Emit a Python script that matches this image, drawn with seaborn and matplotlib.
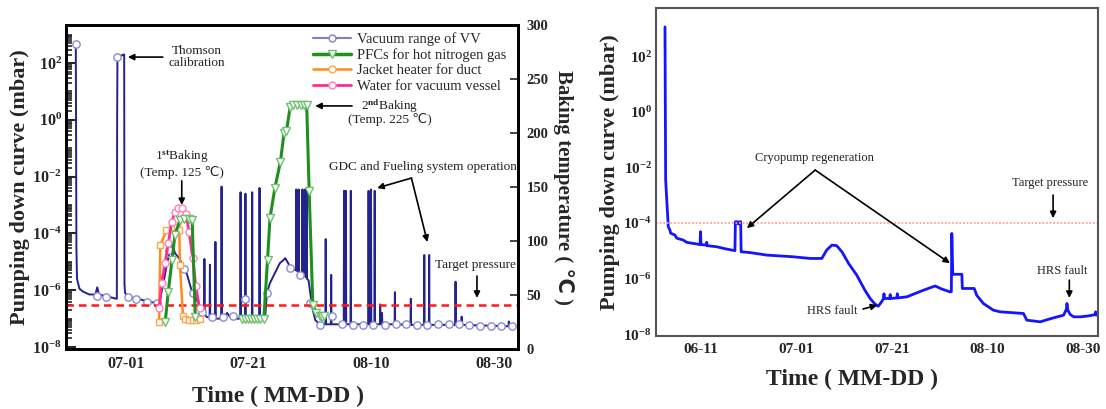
import numpy as np
import pandas as pd
import matplotlib
matplotlib.use("Agg")
import matplotlib.pyplot as plt
import seaborn as sns
from matplotlib.lines import Line2D
from matplotlib.ticker import FixedLocator, FuncFormatter, NullFormatter

# ---------------- data (x = days since 06-01, pressure as log10 mbar) ----------------
date_tick_days_L = [30, 50, 70, 90]
date_tick_labels_L = ["07-01", "07-21", "08-10", "08-30"]
date_tick_days_R = [10, 30, 50, 70, 90]
date_tick_labels_R = ["06-11", "07-01", "07-21", "08-10", "08-30"]
date_minor_days_R = [20, 40, 60, 80]
pressure_decades = [-8, -6, -4, -2, 0, 2]

# Left panel: vacuum range of VV (day, log10 p)
vv_trace = [
    (21.8, 2.67), (21.9, -4.5), (22.0, -5.6), (22.4, -5.95), (23.0, -6.05), (24.0, -6.15),
    (25.0, -6.15), (25.3, -5.9), (25.6, -6.15), (26.5, -6.2), (27.5, -6.25), (28.4, -6.3),
    (28.5, -6.3), (28.55, 0.0), (28.6, 2.2), (29.6, 2.3), (29.7, 2.3), (29.75, -5.8), (29.85, -6.1),
    (30.5, -6.25), (32.0, -6.3), (33.5, -6.4), (35.0, -6.45), (35.5, -6.4), (36.1, -5.75),
    (36.7, -5.05), (37.3, -4.5), (37.6, -4.4), (38.0, -4.7), (38.6, -4.85), (39.1, -5.05),
    (39.9, -5.4), (40.7, -6.0), (41.5, -6.3), (42.3, -6.7),
    (42.75, -6.8), (42.8, -4.9), (42.85, -6.85), (43.2, -6.95), (43.65, -6.95), (43.7, -5.1),
    (43.75, -7.0), (44.2, -7.0), (44.55, -7.0), (44.6, -4.3), (44.65, -7.0), (45.0, -7.0),
    (45.55, -7.0), (45.6, -2.35), (45.65, -6.95), (46.0, -6.95), (46.5, -6.8), (47.0, -6.95),
    (47.8, -7.0),
    (48.65, -7.0), (48.7, -2.55), (48.75, -7.0), (49.45, -7.0), (49.5, -2.6), (49.55, -7.0),
    (50.55, -7.0), (50.6, -2.55), (50.65, -7.0), (51.75, -7.0), (51.8, -2.4), (51.85, -7.0),
    (52.7, -7.0),
    (53.0, -6.1), (53.5, -5.75), (54.3, -5.4), (55.1, -5.05), (55.7, -4.94), (56.0, -4.87),
    (56.8, -5.17), (57.15, -5.25),
    (57.75, -5.3), (57.8, -2.45), (57.85, -5.3), (58.15, -5.35), (58.2, -2.45), (58.25, -5.35),
    (58.75, -5.45), (58.8, -2.45), (58.85, -5.45), (59.15, -5.5), (59.2, -2.45), (59.25, -5.5),
    (59.45, -5.55), (59.5, -2.45), (59.55, -5.6), (59.8, -5.65),
    (60.4, -6.6), (60.9, -7.05), (61.7, -7.22), (62.55, -7.2), (62.6, -4.2), (62.65, -7.2),
    (63.45, -7.2), (63.5, -5.46), (63.55, -7.2),
    (65.55, -7.2), (65.6, -2.5), (65.65, -7.2), (65.85, -7.2), (65.9, -2.5), (65.95, -7.2),
    (66.65, -7.2), (66.7, -2.5), (66.75, -7.2),
    (69.55, -7.2), (69.6, -2.5), (69.65, -7.2), (69.95, -7.2), (70.0, -2.45), (70.05, -7.2),
    (70.55, -7.2), (70.6, -2.5), (70.65, -7.2),
    (71.45, -7.2), (71.5, -6.5), (71.55, -7.2), (71.75, -7.2), (71.8, -6.8), (71.85, -7.2),
    (73.85, -7.2), (73.9, -6.07), (73.95, -7.2), (76.45, -7.22), (76.5, -6.3), (76.55, -7.22),
    (78.65, -7.22), (78.7, -4.76), (78.75, -7.22), (79.45, -7.22), (79.5, -4.76), (79.55, -7.22),
    (83.75, -7.22), (83.8, -5.7), (83.85, -7.22), (84.75, -7.22), (84.8, -6.93), (84.85, -7.22),
    (92.45, -7.27), (92.5, -7.1), (92.55, -7.27), (94.0, -7.27),
]
vv_marker_days = [21.8, 28.5, 25.2, 26.8, 30.4, 31.7, 33.4, 35.0, 37.0, 39.5, 41.0, 42.4, 44.0,
                  45.9, 47.4, 49.4, 53.0, 56.8, 58.4, 60.0, 61.7, 63.6, 65.3, 67.0, 68.7, 70.4,
                  72.3, 74.0, 75.7, 77.5, 79.2, 81.0, 82.7, 84.4, 86.0, 87.8, 89.6, 91.3, 93.1]
vv_marker_logp = [2.67, 2.2, -6.2, -6.25, -6.25, -6.3, -6.4, -6.45, -4.6, -5.25, -6.1, -6.75, -6.95,
                  -6.95, -6.9, -6.3, -6.1, -5.2, -5.45, -6.45, -7.22, -6.9, -7.2, -7.22, -7.22, -7.22,
                  -7.22, -7.2, -7.2, -7.22, -7.22, -7.2, -7.2, -7.2, -7.22, -7.25, -7.25, -7.25, -7.25]

# Baking temperatures (deg C)
pfc_days = [36.4, 36.9, 37.5, 38.0, 38.8, 39.5, 40.3, 40.8, 41.3]
pfc_temp = [25, 53, 82, 106, 119, 120, 120, 119, 30]
pfc2_days = [48.9, 49.4, 49.9, 50.4, 50.9, 51.4, 51.9, 52.5, 53.1, 53.5, 54.3, 55.2, 55.8, 56.2,
             56.8, 57.3, 57.9, 58.5, 59.0, 59.5, 59.9, 60.5, 61.1, 61.6, 62.0, 62.4]
pfc2_temp = [28, 28, 28, 28, 28, 28, 28, 28, 82, 121, 149, 173, 200, 202,
             224, 226, 226, 226, 226, 226, 146, 41, 33, 31, 30, 31]
jacket_days = [35.4, 35.6, 36.6, 37.5, 38.3, 38.7, 38.8, 39.3, 39.7, 40.3, 40.9, 41.5, 42.0]
jacket_temp = [25, 96, 110, 113, 113, 110, 78, 31, 28, 27, 27, 27, 28]
water_days = [35.45, 35.8, 36.4, 36.9, 37.5, 38.0, 38.5, 39.2, 39.8, 40.3, 40.9, 41.4, 42.0]
water_temp = [38, 61, 80, 98, 118, 127, 131, 131, 125, 108, 84, 58, 38]
temp_ticks = [0, 50, 100, 150, 200, 250, 300]

target_left = 3e-7
target_right = 1e-4

# Right panel: pumping down curve (day, log10 p)
pd_trace = [
    (2.46, 3.05), (2.6, -2.46), (2.8, -3.06), (3.15, -4.14), (3.5, -4.26), (3.65, -4.37),
    (4.55, -4.44), (4.9, -4.55), (6.3, -4.62), (7.0, -4.7), (9.8, -4.78), (9.9, -4.32),
    (10.0, -4.78), (11.1, -4.8), (11.2, -4.7), (11.3, -4.82), (13.3, -4.86), (15.0, -4.93),
    (17.1, -5.0), (17.2, -3.96), (17.6, -3.96), (17.8, -4.04), (18.1, -3.96), (18.3, -3.96),
    (18.4, -5.04), (20.3, -5.07), (23.8, -5.16), (29.3, -5.22), (32.8, -5.28), (35.3, -5.28),
    (36.3, -4.98), (37.4, -4.8), (38.4, -4.82), (39.5, -5.04), (40.9, -5.46), (42.6, -5.88),
    (44.3, -6.42), (45.4, -6.72), (46.4, -6.92), (47.1, -7.0), (47.8, -6.84), (48.2, -6.72),
    (48.3, -6.55), (48.4, -6.72), (49.5, -6.72), (49.6, -6.58), (49.7, -6.72), (51.0, -6.7),
    (51.1, -6.55), (51.2, -6.7), (53.1, -6.66), (56.6, -6.42), (59.0, -6.27), (60.4, -6.38),
    (62.1, -6.48), (62.4, -6.48), (62.5, -4.38), (62.7, -5.85), (64.6, -5.85), (64.7, -6.36),
    (67.2, -6.36), (67.7, -6.6), (69.1, -6.9), (71.2, -7.14), (72.6, -7.2), (77.5, -7.26),
    (78.2, -7.5), (81.0, -7.56), (83.1, -7.45), (85.9, -7.32), (86.5, -7.1), (86.6, -6.9),
    (86.8, -7.15), (87.3, -7.3), (88.0, -7.38), (89.4, -7.38), (91.0, -7.35), (92.5, -7.3),
    (92.6, -7.2), (92.7, -7.32), (93.1, -7.3),
]

# ---------------- style ----------------
sns.set_style("white")
plt.rcParams["font.family"] = ["Liberation Serif", "DejaVu Sans"]
plt.rcParams["mathtext.fontset"] = "custom"
plt.rcParams["mathtext.rm"] = "Liberation Serif:bold"
plt.rcParams["mathtext.bf"] = "Liberation Serif:bold"
plt.rcParams["mathtext.it"] = "Liberation Serif:bold"

fig = plt.figure(figsize=(11.06, 4.09), dpi=100)
W, H = 1106, 409
axL = fig.add_axes([66 / W, 1 - 349 / H, 452 / W, 324 / H])
axR = fig.add_axes([656 / W, 1 - 336 / H, 442 / W, 328 / H])

vv = pd.DataFrame(vv_trace, columns=["day", "logp"])
vv["p"] = 10.0 ** vv["logp"]
vvm = pd.DataFrame({"day": vv_marker_days, "p": 10.0 ** np.array(vv_marker_logp)})
pdc = pd.DataFrame(pd_trace, columns=["day", "logp"])
pdc["p"] = 10.0 ** pdc["logp"]

VV_C = "#23238e"
VV_MK = "#8a8ad8"
GREEN = "#1f8f1f"
ORANGE = "#ff8c1a"
PINK = "#ff2d8f"

# ---------------- left panel ----------------
sns.lineplot(data=vv, x="day", y="p", ax=axL, sort=False, estimator=None, color=VV_C, lw=1.4)
sns.scatterplot(data=vvm, x="day", y="p", ax=axL, marker="o", s=28, facecolor="white",
                edgecolor=VV_MK, linewidth=1.0, zorder=3)
axL.axhline(target_left, color="#ff1a1a", lw=1.8, dashes=(3, 2), zorder=4)

axT = axL.twinx()
for d, t, c, m, mec, ms, lw in [
    (jacket_days, jacket_temp, ORANGE, "s", "#ffa64d", 4.5, 1.8),
    (water_days, water_temp, PINK, "o", "#ff80c0", 5, 2.0),
    (pfc_days, pfc_temp, GREEN, "v", "#70c070", 5.5, 2.2),
    (pfc2_days, pfc2_temp, GREEN, "v", "#70c070", 5.5, 2.2),
]:
    sns.lineplot(x=d, y=t, ax=axT, sort=False, estimator=None, color=c, lw=lw, marker=m,
                 markersize=ms, markerfacecolor="white", markeredgecolor=mec, markeredgewidth=1.0)
axT.set_ylim(0, 300)
axT.set_yticks(temp_ticks)

# right panel line
sns.lineplot(data=pdc, x="day", y="p", ax=axR, sort=False, estimator=None, color="#1414ff", lw=2.0)
axR.axhline(target_right, color="#ffa0a0", lw=1.3, ls=(0, (1, 1)))

# log axes setup (after plotting)
major_log = [10.0 ** k for k in pressure_decades]
minor_log = [m * 10.0 ** k for k in range(-9, 4) for m in range(1, 10)]
logfmt = FuncFormatter(lambda v, pos: r"$10^{%d}$" % int(round(np.log10(v))))
for ax in (axL, axR):
    ax.set_yscale("log")
    ax.yaxis.set_major_locator(FixedLocator(major_log))
    ax.yaxis.set_minor_locator(FixedLocator(minor_log))
    ax.yaxis.set_major_formatter(logfmt)
    ax.yaxis.set_minor_formatter(NullFormatter())
axL.set_xlim(20.2, 94.0)
axL.set_ylim(10 ** -8.07, 10 ** 3.34)
axR.set_xlim(0.58, 93.1)
axR.set_ylim(10 ** -8.07, 10 ** 3.73)

axL.set_xticks(date_tick_days_L)
axL.set_xticklabels(date_tick_labels_L)
axL.tick_params(axis="x", which="major", direction="in", length=6, width=1.5, pad=5,
                labelsize=11.5, top=False)
axL.tick_params(axis="y", which="major", direction="in", length=7, width=1.5, pad=3, labelsize=11.5)
axL.tick_params(axis="y", which="minor", direction="in", length=4, width=1.2)
axT.tick_params(axis="y", which="major", direction="in", length=6, width=1.2, pad=6, labelsize=10.5)
for lab in axL.get_xticklabels() + axL.get_yticklabels() + axT.get_yticklabels():
    lab.set_fontweight("bold")
for a in (axL, axT):
    for s in a.spines.values():
        s.set_linewidth(2.0)
        s.set_color("black")

axL.set_xlabel("Time ( MM-DD )", fontsize=17, fontweight="bold", va="center")
axL.xaxis.set_label_coords(0.469, -0.148)
axL.set_ylabel("Pumping down curve (mbar)", fontsize=16, fontweight="bold", va="center")
axL.yaxis.set_label_coords(-0.102, 0.5)
axT.set_ylabel("Baking temperature ( \u2103 )", fontsize=15, fontweight="bold", rotation=270,
               va="center")
axT.yaxis.set_label_coords(1.10, 0.5)

handles = [
    Line2D([], [], color="#7f7fcf", lw=1.5, marker="o", ms=5, mfc="white", mec="#7f7fcf"),
    Line2D([], [], color=GREEN, lw=2.5, marker="v", ms=6, mfc="white", mec="#70c070"),
    Line2D([], [], color=ORANGE, lw=1.8, marker="o", ms=5, mfc="white", mec="#ffa64d"),
    Line2D([], [], color=PINK, lw=2.0, marker="o", ms=5, mfc="white", mec="#ff80c0"),
]
labels = ["Vacuum range of VV", "PFCs for hot nitrogen gas", "Jacket heater for duct",
          "Water for vacuum vessel"]
axT.legend(handles, labels, loc="upper right", bbox_to_anchor=(0.99, 1.0), frameon=False,
           fontsize=10.5, handlelength=2.6, labelspacing=0.15, borderaxespad=0.1,
           handletextpad=0.4)

arrow = dict(arrowstyle="-|>", color="black", lw=1.2, mutation_scale=9, shrinkA=0, shrinkB=0)
ann = dict(fontsize=9.5, ha="center", va="center", color="#222222")
axL.annotate("", xy=(30.3, 10 ** 2.21), xytext=(36.0, 10 ** 2.21), arrowprops=arrow)
axL.text(41.6, 10 ** 2.21, "Thomson\ncalibration", linespacing=1.05, **ann)
axL.text(39.1, 10 ** -1.31, "1$^{st}$Baking", **ann)
axL.text(39.1, 10 ** -1.87, "(Temp. 125 \u2103)", **ann)
axL.annotate("", xy=(39.1, 10 ** -3.0), xytext=(39.1, 10 ** -2.15), arrowprops=arrow)
axL.text(73.1, 10 ** 0.49, "2$^{nd}$Baking", **ann)
axL.text(73.1, 10 ** 0.0, "(Temp. 225 \u2103)", **ann)
axL.annotate("", xy=(60.9, 10 ** 0.49), xytext=(66.9, 10 ** 0.49), arrowprops=arrow)
axL.text(78.5, 10 ** -1.66, "GDC and Fueling system operation", **ann)
axL.annotate("", xy=(71.0, 10 ** -2.40), xytext=(76.6, 10 ** -2.05), arrowprops=arrow)
axL.annotate("", xy=(79.2, 10 ** -4.3), xytext=(76.6, 10 ** -2.05), arrowprops=arrow)
axL.text(87.0, 10 ** -5.11, "Target pressure", **ann)
axL.annotate("", xy=(87.3, 10 ** -6.27), xytext=(87.3, 10 ** -5.5), arrowprops=arrow)

# ---------------- right panel styling ----------------
axR.set_xticks(date_tick_days_R)
axR.set_xticklabels(date_tick_labels_R)
axR.xaxis.set_minor_locator(FixedLocator(date_minor_days_R))
axR.tick_params(axis="x", which="major", direction="in", length=6, width=1.2, pad=5, labelsize=11)
axR.tick_params(axis="x", which="minor", direction="in", length=4, width=1.0)
axR.tick_params(axis="y", which="major", direction="in", length=7, width=1.2, pad=3, labelsize=11)
axR.tick_params(axis="y", which="minor", direction="in", length=4, width=1.0)
for lab in axR.get_xticklabels() + axR.get_yticklabels():
    lab.set_fontweight("bold")
for s in axR.spines.values():
    s.set_linewidth(1.5)
    s.set_color("#555555")
axR.set_xlabel("Time ( MM-DD )", fontsize=17, fontweight="bold", va="center")
axR.xaxis.set_label_coords(0.443, -0.134)
axR.set_ylabel("Pumping down curve (mbar)", fontsize=16, fontweight="bold", va="center")
axR.yaxis.set_label_coords(-0.104, 0.5)

ann2 = dict(fontsize=9, ha="center", va="center", color="#222222")
axR.text(33.7, 10 ** -1.67, "Cryopump regeneration", **ann2)
axR.annotate("", xy=(19.6, 10 ** -4.19), xytext=(33.9, 10 ** -2.1), arrowprops=arrow)
axR.annotate("", xy=(62.1, 10 ** -5.45), xytext=(33.9, 10 ** -2.1), arrowprops=arrow)
axR.text(83.1, 10 ** -2.57, "Target pressure", **ann2)
axR.annotate("", xy=(83.7, 10 ** -3.83), xytext=(83.7, 10 ** -3.0), arrowprops=arrow)
axR.text(37.4, 10 ** -7.17, "HRS fault", **ann2)
axR.annotate("", xy=(46.9, 10 ** -6.96), xytext=(43.9, 10 ** -7.1), arrowprops=arrow)
axR.text(85.6, 10 ** -5.73, "HRS fault", **ann2)
axR.annotate("", xy=(87.1, 10 ** -6.7), xytext=(87.1, 10 ** -6.06), arrowprops=arrow)

fig.savefig("out.png", dpi=100)
